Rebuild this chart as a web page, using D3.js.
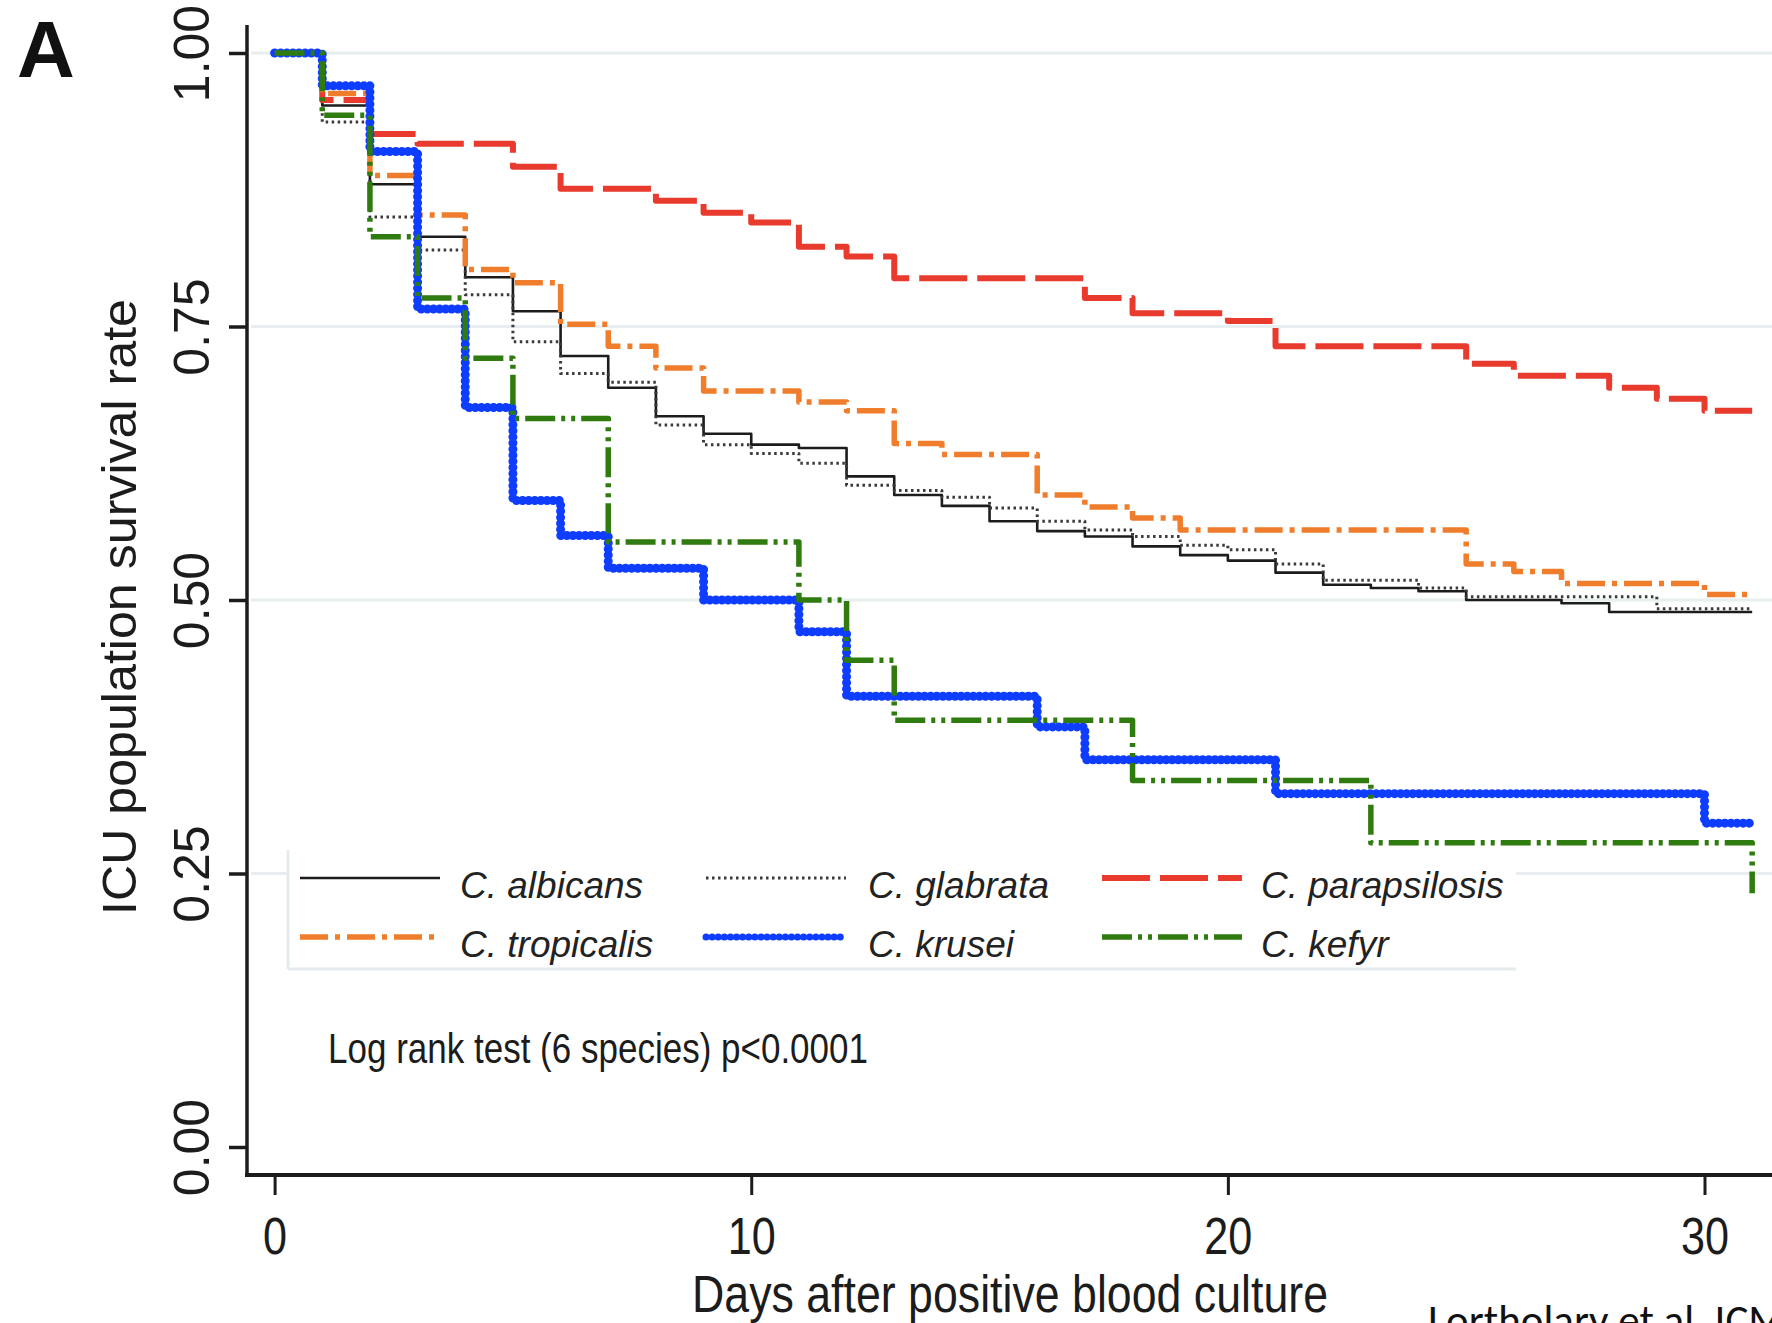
<!DOCTYPE html>
<html>
<head>
<meta charset="utf-8">
<script src="https://cdn.jsdelivr.net/npm/d3@7"></script>
<style>
  html, body { margin: 0; padding: 0; background: #fff; overflow: hidden; }
  svg { display: block; font-family: "Liberation Sans", Arial, sans-serif; }
</style>
</head>
<body>
<div id="chart"></div>
<script>
// Kaplan-Meier steps: day of each step, survival after it
const species = ["C. albicans", "C. glabrata", "C. parapsilosis", "C. tropicalis", "C. krusei", "C. kefyr"];

const albicansDays = [0, 1, 2, 3, 4, 5, 6, 7, 8, 9, 10, 11, 12, 13, 14, 15, 16, 17, 18, 19, 20, 21, 22, 23, 24, 25, 27, 28, 31];
const albicansSurv = [1.0, 0.952, 0.880, 0.832, 0.795, 0.764, 0.723, 0.694, 0.668, 0.652, 0.642, 0.639, 0.613, 0.596, 0.586, 0.572, 0.563, 0.558, 0.549, 0.541, 0.536, 0.525, 0.514, 0.511, 0.508, 0.500, 0.497, 0.489, 0.489];

const glabrataDays = [0, 1, 2, 3, 4, 5, 6, 7, 8, 9, 10, 11, 12, 13, 14, 15, 16, 17, 18, 19, 20, 21, 22, 24, 25, 29, 31];
const glabrataSurv = [1.0, 0.937, 0.850, 0.820, 0.779, 0.736, 0.707, 0.699, 0.660, 0.642, 0.634, 0.625, 0.605, 0.600, 0.594, 0.584, 0.572, 0.564, 0.558, 0.550, 0.546, 0.533, 0.518, 0.511, 0.503, 0.492, 0.492];

const parapsilosisDays = [0, 1, 2, 3, 5, 6, 8, 9, 10, 11, 12, 13, 17, 18, 20, 21, 25, 26, 28, 29, 30, 31];
const parapsilosisSurv = [1.0, 0.957, 0.926, 0.917, 0.896, 0.876, 0.865, 0.854, 0.845, 0.823, 0.814, 0.794, 0.776, 0.762, 0.755, 0.732, 0.716, 0.705, 0.694, 0.684, 0.673, 0.673];

const tropicalisDays = [0, 1, 2, 3, 4, 5, 6, 7, 8, 9, 11, 12, 13, 14, 16, 17, 18, 19, 25, 26, 27, 30, 31];
const tropicalisSurv = [1.0, 0.963, 0.888, 0.852, 0.802, 0.790, 0.752, 0.732, 0.712, 0.691, 0.681, 0.673, 0.643, 0.633, 0.596, 0.585, 0.575, 0.564, 0.533, 0.526, 0.515, 0.505, 0.505];

const kruseiDays = [0, 1, 2, 3, 4, 5, 6, 7, 9, 11, 12, 16, 17, 21, 30, 31];
const kruseiSurv = [1.0, 0.970, 0.910, 0.766, 0.676, 0.591, 0.559, 0.529, 0.500, 0.471, 0.412, 0.384, 0.354, 0.323, 0.296, 0.296];

const kefyrDays = [0, 1, 2, 3, 4, 5, 7, 11, 12, 13, 18, 23, 31];
const kefyrSurv = [1.0, 0.943, 0.832, 0.776, 0.721, 0.666, 0.553, 0.500, 0.445, 0.390, 0.335, 0.278, 0.232];

const xTicks = [0, 10, 20, 30];
const yTicks = [0, 0.25, 0.5, 0.75, 1];
const gridValues = [0.25, 0.5, 0.75, 1];

const seriesDays = [albicansDays, glabrataDays, parapsilosisDays, tropicalisDays, kruseiDays, kefyrDays];
const seriesSurv = [albicansSurv, glabrataSurv, parapsilosisSurv, tropicalisSurv, kruseiSurv, kefyrSurv];

// line looks, same order as species
const styles = [
    { stroke: "#1c1c1c", width: 2.6, dash: null, cap: "butt" },
    { stroke: "#3a3a3a", width: 3, dash: "2.5,3.5", cap: "butt" },
    { stroke: "#e83a2d", width: 6, dash: "48,10", cap: "butt" },
    { stroke: "#ef7d2b", width: 5.5, dash: "28,7,5,7", cap: "butt" },
    { stroke: "#0f3dff", width: 9, dash: "0.1,6", cap: "round" },
    { stroke: "#2f7b0f", width: 5.5, dash: "30,6,4,6,4,6", cap: "butt" }
];

const W = 1772, H = 1323;
const axisX = 247, axisY = 1175;

const svg = d3.select("#chart").append("svg")
    .attr("width", W)
    .attr("height", H);

const x = d3.scaleLinear().domain([0, 30]).range([274.6, 1704.5]);
const y = d3.scaleLinear().domain([0, 1]).range([1147, 53]);

// gridlines
svg.append("g").selectAll("line")
    .data(gridValues)
    .join("line")
    .attr("x1", axisX + 4)
    .attr("x2", W)
    .attr("y1", d => y(d))
    .attr("y2", d => y(d))
    .attr("stroke", "#e7eef0")
    .attr("stroke-width", 3);

// survival curves
const line = d3.line()
    .x(d => x(d[0]))
    .y(d => y(d[1]))
    .curve(d3.curveStepAfter);

species.forEach((name, i) => {
    const pts = seriesDays[i].map((d, j) => [d, seriesSurv[i][j]]);
    const st = styles[i];
    svg.append("path")
        .datum(pts)
        .attr("d", line)
        .attr("fill", "none")
        .attr("stroke", st.stroke)
        .attr("stroke-width", st.width)
        .attr("stroke-dasharray", st.dash)
        .attr("stroke-linecap", st.cap)
        .attr("stroke-linejoin", "round");
});

// legend box
const legend = svg.append("g");
legend.append("rect")
    .attr("x", 288).attr("y", 850)
    .attr("width", 1228).attr("height", 119)
    .attr("fill", "#fff");
legend.append("line")
    .attr("x1", 288).attr("x2", 288).attr("y1", 850).attr("y2", 969)
    .attr("stroke", "#e4ebed").attr("stroke-width", 3);
legend.append("line")
    .attr("x1", 288).attr("x2", 1516).attr("y1", 969).attr("y2", 969)
    .attr("stroke", "#e4ebed").attr("stroke-width", 3);

const colSample = [300, 706, 1102];
const colText = [460, 868, 1261];
const rowY = [878, 937];

species.forEach((name, i) => {
    const c = i % 3, r = Math.floor(i / 3);
    const st = styles[i];
    legend.append("line")
        .attr("x1", colSample[c]).attr("x2", colSample[c] + 140)
        .attr("y1", rowY[r]).attr("y2", rowY[r])
        .attr("stroke", st.stroke)
        .attr("stroke-width", Math.min(st.width, 7))
        .attr("stroke-dasharray", st.dash)
        .attr("stroke-linecap", st.cap);
    legend.append("text")
        .attr("x", colText[c])
        .attr("y", rowY[r] + 20)
        .attr("font-size", 37)
        .attr("font-style", "italic")
        .attr("fill", "#222")
        .text(name);
});

// axes
const yAxis = d3.axisLeft(y).tickValues(yTicks).tickSize(18).tickFormat(d3.format(".2f"));
const gy = svg.append("g").attr("transform", `translate(${axisX},0)`).call(yAxis);
gy.select(".domain").remove();
gy.selectAll(".tick line").attr("stroke", "#1c1c1c").attr("stroke-width", 3.5);
gy.selectAll(".tick text")
    .attr("x", null).attr("dy", null)
    .attr("transform", "translate(-38,0) rotate(-90)")
    .attr("text-anchor", "middle")
    .attr("font-size", 50)
    .attr("font-family", "'Liberation Sans', Arial, sans-serif")
    .attr("fill", "#1c1c1c");

const xAxis = d3.axisBottom(x).tickValues(xTicks).tickSize(20);
const gx = svg.append("g").attr("transform", `translate(0,${axisY})`).call(xAxis);
gx.select(".domain").remove();
gx.selectAll(".tick line").attr("stroke", "#1c1c1c").attr("stroke-width", 3);
gx.selectAll(".tick text")
    .attr("y", 79).attr("dy", null)
    .attr("font-size", 52)
    .attr("font-family", "'Liberation Sans', Arial, sans-serif")
    .attr("fill", "#1c1c1c")
    .attr("textLength", d => String(d).length * 24)
    .attr("lengthAdjust", "spacingAndGlyphs");

// frame lines
svg.append("line")
    .attr("x1", axisX).attr("x2", axisX).attr("y1", 25).attr("y2", axisY + 2)
    .attr("stroke", "#1c1c1c").attr("stroke-width", 3.5);
svg.append("line")
    .attr("x1", axisX - 2).attr("x2", W).attr("y1", axisY).attr("y2", axisY)
    .attr("stroke", "#1c1c1c").attr("stroke-width", 4);

// titles and notes
svg.append("text")
    .attr("transform", "translate(136,607) rotate(-90)")
    .attr("text-anchor", "middle")
    .attr("font-size", 49)
    .attr("textLength", 616)
    .attr("lengthAdjust", "spacingAndGlyphs")
    .attr("fill", "#1c1c1c")
    .text("ICU population survival rate");

svg.append("text")
    .attr("x", 1010).attr("y", 1312)
    .attr("text-anchor", "middle")
    .attr("font-size", 51)
    .attr("textLength", 636)
    .attr("lengthAdjust", "spacingAndGlyphs")
    .attr("fill", "#1c1c1c")
    .text("Days after positive blood culture");

svg.append("text")
    .attr("x", 328).attr("y", 1063)
    .attr("font-size", 42)
    .attr("textLength", 540)
    .attr("lengthAdjust", "spacingAndGlyphs")
    .attr("fill", "#1c1c1c")
    .text("Log rank test (6 species) p<0.0001");

svg.append("text")
    .attr("x", 17).attr("y", 77)
    .attr("font-size", 80)
    .attr("font-weight", "bold")
    .attr("fill", "#111")
    .text("A");

svg.append("text")
    .attr("x", 1428).attr("y", 1335)
    .attr("font-size", 43)
    .attr("font-family", "Carlito, 'Liberation Sans', Arial, sans-serif")
    .attr("fill", "#111")
    .text("Lortholary et al. ICM 2014");
</script>
</body>
</html>
